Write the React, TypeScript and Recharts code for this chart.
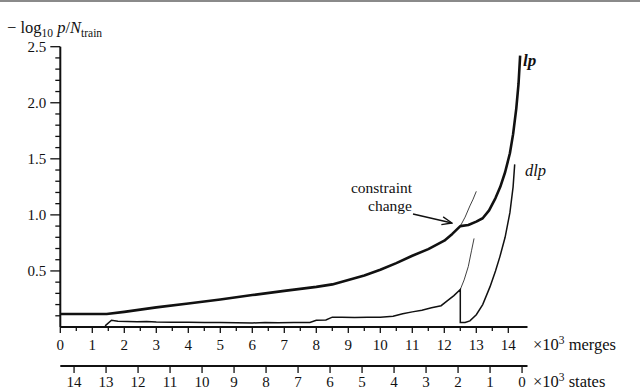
import React from "react";
import { ComposedChart, Line, XAxis, YAxis } from "recharts";

// merges in thousands, value = -log10 p / N_train
const lpMain = [
  [0, 0.116], [1.45, 0.116], [2, 0.135], [3, 0.175], [4, 0.21], [5, 0.245], [6, 0.285],
  [7, 0.322], [8, 0.358], [8.5, 0.38], [9, 0.42], [9.5, 0.46], [10, 0.51], [10.5, 0.57],
  [11, 0.635], [11.5, 0.695], [12, 0.77], [12.25, 0.83], [12.5, 0.9], [12.75, 0.91],
  [13, 0.94], [13.2, 0.97], [13.4, 1.04], [13.6, 1.15], [13.75, 1.25], [13.9, 1.38],
  [14.05, 1.55], [14.15, 1.72], [14.25, 1.95], [14.32, 2.17], [14.37, 2.42],
];
const lpOld = [[12.5, 0.9], [12.65, 0.98], [12.8, 1.08], [12.9, 1.14], [13.0, 1.21]];
const dlpMain = [
  [1.4, 0.01], [1.6, 0.06], [1.8, 0.052], [2.1, 0.05], [2.4, 0.046], [2.7, 0.048],
  [3, 0.044], [3.5, 0.042], [4, 0.043], [4.5, 0.04], [5, 0.04], [5.5, 0.038], [6, 0.036],
  [6.4, 0.041], [6.8, 0.038], [7.3, 0.04], [7.8, 0.04], [8, 0.06], [8.3, 0.062],
  [8.5, 0.088], [8.8, 0.086], [9.2, 0.084], [9.6, 0.088], [10, 0.088], [10.4, 0.095],
  [10.7, 0.118], [11, 0.135], [11.3, 0.15], [11.6, 0.172], [11.9, 0.19], [12.1, 0.235],
  [12.3, 0.28], [12.5, 0.335], [12.5, 0.04], [12.65, 0.04], [12.8, 0.055], [13.0, 0.11],
  [13.2, 0.2], [13.43, 0.36], [13.6, 0.5], [13.74, 0.63], [13.9, 0.8], [14.05, 1.02],
  [14.15, 1.25], [14.2, 1.45],
];
const dlpOld = [[12.5, 0.335], [12.62, 0.42], [12.75, 0.54], [12.85, 0.68], [12.93, 0.79]];

const mergeTicks = [0, 0.5, 1, 1.5, 2, 2.5, 3, 3.5, 4, 4.5, 5, 5.5, 6, 6.5, 7, 7.5, 8, 8.5, 9, 9.5, 10, 10.5, 11, 11.5, 12, 12.5, 13, 13.5, 14];
const stateTicks = [14, 13, 12, 11, 10, 9, 8, 7, 6, 5, 4, 3, 2, 1, 0];
const yTicks = [0.1, 0.2, 0.3, 0.4, 0.5, 0.6, 0.7, 0.8, 0.9, 1.0, 1.1, 1.2, 1.3, 1.4, 1.5, 1.6, 1.7, 1.8, 1.9, 2.0, 2.1, 2.2, 2.3, 2.4, 2.5];
const yLabelled = [0.5, 1.0, 1.5, 2.0, 2.5];
const STATES_START = 14.43; // thousands of states before any merge

const toPts = (arr: number[][]) => arr.map(([m, v]) => ({ m, v }));
// invisible anchor so the states axis gets drawn
const statesAnchor = [{ s: 14, v: 0 }, { s: 0, v: 0 }];

const FONT = "Times New Roman, Liberation Serif, serif";
const INK = "#111";
const txt = { fontFamily: FONT, fontSize: 15 } as React.CSSProperties;
const txtBig = { fontFamily: FONT, fontSize: 16.5 } as React.CSSProperties;
const txtNote = { fontFamily: FONT, fontSize: 15.5 } as React.CSSProperties;

const MergeTick = ({ x, y, payload }: any) => {
  const major = Number.isInteger(payload.value);
  return (
    <g>
      <line x1={x} x2={x} y1={y} y2={y + (major ? 6 : 4)} stroke={INK} strokeWidth={1.3} />
      {major && (
        <text x={x} y={y + 23} textAnchor="middle" style={txt} fill={INK}>
          {payload.value}
        </text>
      )}
    </g>
  );
};

const StateTick = ({ x, y, payload }: any) => (
  <g>
    <line x1={x} x2={x} y1={y} y2={y + 7} stroke={INK} strokeWidth={1.3} />
    <text x={x} y={y + 21} textAnchor="middle" style={txt} fill={INK}>
      {payload.value}
    </text>
  </g>
);

const YTick = ({ x, y, payload }: any) => {
  const major = yLabelled.some((t) => Math.abs(t - payload.value) < 1e-6);
  return (
    <g>
      <line x1={x - (major ? 10 : 5)} x2={x} y1={y} y2={y} stroke={INK} strokeWidth={1.3} />
      {major && (
        <text x={x - 14} y={y + 5} textAnchor="end" style={txt} fill={INK}>
          {payload.value.toFixed(1)}
        </text>
      )}
    </g>
  );
};

export default function App() {
  return (
    <div style={{ position: "absolute", left: 0, top: 0, width: 640, height: 390, background: "#fff" }}>
      <ComposedChart width={640} height={390} margin={{ top: 46.7, right: 112.5, left: 0, bottom: 0 }}>
        <XAxis
          xAxisId="merges"
          dataKey="m"
          type="number"
          domain={[0, 14.6]}
          ticks={mergeTicks}
          interval={0}
          height={39}
          tickSize={0}
          tickMargin={0}
          tickLine={false}
          axisLine={{ stroke: INK, strokeWidth: 2 }}
          tick={<MergeTick />}
        />
        <XAxis
          xAxisId="states"
          dataKey="s"
          type="number"
          domain={[STATES_START - 14.6, STATES_START]}
          allowDataOverflow
          reversed
          ticks={stateTicks}
          interval={0}
          height={24}
          tickSize={0}
          tickMargin={0}
          tickLine={false}
          axisLine={{ stroke: INK, strokeWidth: 2 }}
          tick={<StateTick />}
        />
        <YAxis
          type="number"
          domain={[0, 2.5]}
          ticks={yTicks}
          interval={0}
          width={60.3}
          tickSize={0}
          tickMargin={0}
          tickLine={false}
          axisLine={{ stroke: INK, strokeWidth: 2 }}
          tick={<YTick />}
        />
        <Line xAxisId="states" data={statesAnchor} dataKey="v" stroke="none" dot={false} activeDot={false} isAnimationActive={false} />
        <Line xAxisId="merges" data={toPts(dlpMain)} dataKey="v" type="linear" stroke={INK} strokeWidth={1.5} dot={false} activeDot={false} isAnimationActive={false} />
        <Line xAxisId="merges" data={toPts(dlpOld)} dataKey="v" type="linear" stroke={INK} strokeWidth={0.8} dot={false} activeDot={false} isAnimationActive={false} />
        <Line xAxisId="merges" data={toPts(lpOld)} dataKey="v" type="linear" stroke={INK} strokeWidth={0.8} dot={false} activeDot={false} isAnimationActive={false} />
        <Line xAxisId="merges" data={toPts(lpMain)} dataKey="v" type="linear" stroke={INK} strokeWidth={2.6} strokeLinejoin="round" dot={false} activeDot={false} isAnimationActive={false} />
      </ComposedChart>
      <svg width={640} height={390} style={{ position: "absolute", left: 0, top: 0, pointerEvents: "none" }}>
        <defs>
          <marker id="arr" markerWidth={12} markerHeight={10} refX={11} refY={5} orient="auto" markerUnits="userSpaceOnUse">
            <path d="M1,1 L11,5 L1,9" fill="none" stroke={INK} strokeWidth={1.3} />
          </marker>
        </defs>
        <line x1={0} x2={640} y1={1} y2={1} stroke="#8a8a8a" strokeWidth={2} />
        <text x={7} y={33} style={txtBig} fill={INK}>
          − log<tspan fontSize={11.5} dy={4}>10</tspan>
          <tspan dy={-4} fontStyle="italic"> p</tspan>/<tspan fontStyle="italic">N</tspan>
          <tspan fontSize={11.5} dy={4}>train</tspan>
        </text>
        <text x={412} y={193} textAnchor="end" style={txtNote} fill={INK}>constraint</text>
        <text x={412} y={211} textAnchor="end" style={txtNote} fill={INK}>change</text>
        <line x1={413} y1={214} x2={452} y2={223} stroke={INK} strokeWidth={1.5} markerEnd="url(#arr)" />
        <text x={523} y={66} style={{ ...txt, fontSize: 17, fontWeight: "bold", fontStyle: "italic" }} fill={INK}>lp</text>
        <text x={525} y={176} style={{ ...txtBig, fontStyle: "italic" }} fill={INK}>dlp</text>
        <text x={533} y={350} style={txtBig} fill={INK}>
          ×10<tspan fontSize={11.5} dy={-6}>3</tspan><tspan dy={6}> merges</tspan>
        </text>
        <text x={533} y={387} style={txtBig} fill={INK}>
          ×10<tspan fontSize={11.5} dy={-6}>3</tspan><tspan dy={6}> states</tspan>
        </text>
      </svg>
    </div>
  );
}
